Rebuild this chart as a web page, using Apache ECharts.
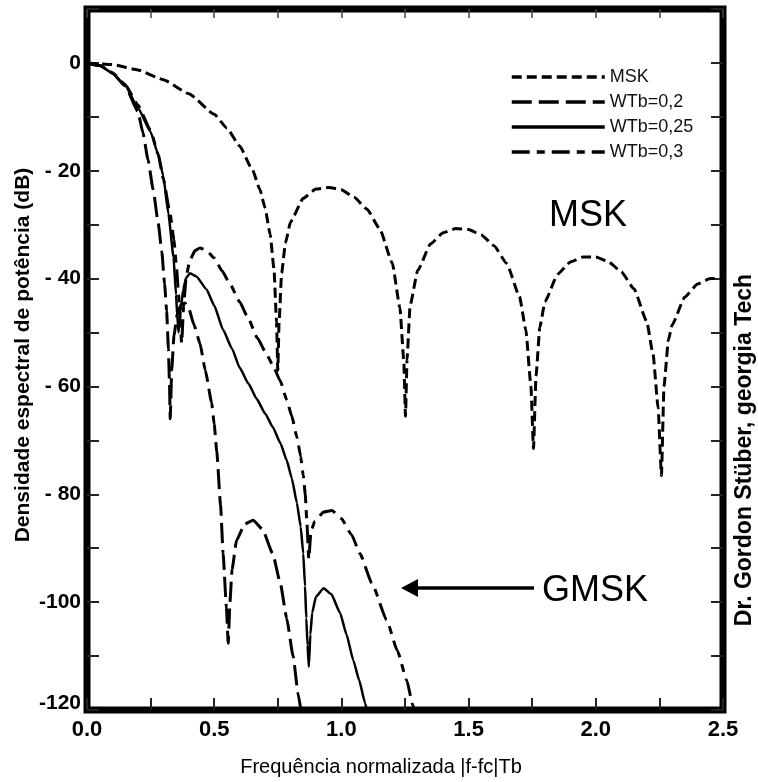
<!DOCTYPE html>
<html>
<head>
<meta charset="utf-8">
<script src="https://cdn.jsdelivr.net/npm/echarts@6/dist/echarts.min.js"></script>
<style>
  html, body { margin: 0; padding: 0; background: #fff; }
  #chart { width: 758px; height: 782px; }
</style>
</head>
<body>
<div id="chart"></div>
<script>
// ---- data ----
const seriesNames = ['MSK', 'WTb=0,2', 'WTb=0,25', 'WTb=0,3'];

const mskF = [0, 0.1, 0.2, 0.3, 0.4, 0.5, 0.55, 0.6, 0.65, 0.68, 0.7, 0.72, 0.735, 0.745, 0.75, 0.755, 0.765, 0.78, 0.8, 0.85,
  0.9, 0.95, 1.0, 1.05, 1.1, 1.15, 1.2, 1.23, 1.245, 1.252, 1.258, 1.27, 1.3, 1.35, 1.4, 1.45, 1.5, 1.55, 1.6, 1.65,
  1.7, 1.725, 1.745, 1.755, 1.765, 1.78, 1.8, 1.85, 1.9, 1.95, 2.0, 2.05, 2.1, 2.15, 2.2, 2.225, 2.245, 2.258, 2.268, 2.285,
  2.3, 2.35, 2.4, 2.45, 2.5];
const mskDb = [0, -0.3, -1.3, -3.1, -5.7, -9.5, -12.1, -15.4, -19.8, -23.5, -26.9, -31.8, -38.2, -48, -57, -48.2, -39, -33.4, -29.5, -25.1,
  -23.4, -23.1, -23.5, -24.9, -27.1, -30.7, -37.1, -45.4, -55, -65.5, -55, -45, -38.5, -33.6, -31.5, -30.7, -30.9, -31.9, -33.9, -37.2,
  -43.3, -49.5, -60, -71.5, -58, -49, -44.3, -39.2, -36.9, -36, -36, -36.9, -38.7, -41.9, -47.9, -54, -64, -76.5, -60, -51.5,
  -48.6, -43.4, -41, -40, -39.9];

const g20F = [0, 0.05, 0.1, 0.15, 0.2, 0.22, 0.24, 0.26, 0.28, 0.294, 0.305, 0.313, 0.32, 0.324, 0.327, 0.333, 0.342, 0.355, 0.37, 0.385,
  0.40, 0.42, 0.444, 0.465, 0.49, 0.50, 0.51, 0.525, 0.535, 0.548, 0.555, 0.562, 0.57, 0.588, 0.62, 0.653, 0.69, 0.73, 0.76, 0.785,
  0.81, 0.83, 0.842];
const g20Db = [0, -0.5, -1.9, -4.3, -9, -13, -18, -23.5, -29.7, -35, -41, -46, -53, -59, -66, -57, -50.5, -46.5, -44.8, -44.5,
  -45.5, -48.5, -52, -57, -63, -67, -72, -82, -91, -101, -107.6, -100, -94, -88.5, -85.5, -84.8, -86.5, -91, -96.5, -103,
  -110, -117, -120.5];

const g25F = [0, 0.05, 0.1, 0.15, 0.2, 0.25, 0.28, 0.3, 0.32, 0.34, 0.35, 0.355, 0.36, 0.368, 0.378, 0.39, 0.405, 0.43, 0.47, 0.5,
  0.535, 0.57, 0.6, 0.635, 0.667, 0.7, 0.73, 0.76, 0.785, 0.805, 0.825, 0.84, 0.85, 0.857, 0.862, 0.867, 0.872, 0.878, 0.885, 0.9,
  0.93, 0.96, 0.995, 1.02, 1.047, 1.07, 1.093, 1.102];
const g25Db = [0, -0.5, -1.9, -4.2, -8.3, -12.8, -17, -21, -28, -36, -43, -47, -50, -46, -42, -39.8, -39, -39.6, -42, -45,
  -49.5, -53, -56.5, -59.5, -62.3, -65, -67.5, -70.5, -73.7, -77, -81.6, -86, -91, -97, -103, -108, -112, -106, -102, -99,
  -97.4, -98.5, -102, -106, -110.8, -114.5, -118.7, -120.5];

const g30F = [0, 0.05, 0.1, 0.15, 0.2, 0.25, 0.28, 0.3, 0.326, 0.342, 0.352, 0.36, 0.366, 0.372, 0.38, 0.39, 0.405, 0.425, 0.444, 0.47,
  0.5, 0.53, 0.56, 0.6, 0.63, 0.67, 0.7, 0.73, 0.76, 0.785, 0.805, 0.825, 0.84, 0.85, 0.858, 0.864, 0.872, 0.88, 0.895, 0.93,
  0.963, 1.0, 1.04, 1.073, 1.12, 1.178, 1.22, 1.257, 1.28, 1.29];
const g30Db = [0, -0.5, -1.8, -4, -7.8, -12.5, -17, -21.5, -27.8, -32.8, -38, -43, -47.5, -52, -45, -39.5, -36.5, -34.8, -34.3, -34.8,
  -36.2, -38.5, -40.8, -44.3, -47, -51, -53.5, -56, -59, -62.5, -65.5, -69.4, -73, -76.5, -80, -85, -92, -87, -85, -83.3,
  -83, -84.5, -87.5, -91, -96.5, -103.3, -109, -114.5, -119, -121];

const xTickValues = [0, 0.5, 1.0, 1.5, 2.0, 2.5];
const xTickLabels = ['0.0', '0.5', '1.0', '1.5', '2.0', '2.5'];
const yTickValues = [0, -20, -40, -60, -80, -100, -120];
const yTickLabels = ['0', '- 20', '- 40', '- 60', '- 80', '-100', '-120'];

const yTitle = 'Densidade espectral de potência (dB)';
const xTitle = 'Frequência normalizada |f-fc|Tb';
const credit = 'Dr. Gordon Stüber, georgia Tech';

// ---- build ----
function zip(xs, ys) { const n = Math.min(xs.length, ys.length); const out = []; for (let i = 0; i < n; i++) out.push([xs[i], ys[i]]); return out; }

const FONT = '"Liberation Sans", Arial, "DejaVu Sans", sans-serif';
const chart = echarts.init(document.getElementById('chart'), null, { renderer: 'canvas' });

function lineSeries(name, data, width, type) {
  return {
    name: name, type: 'line', data: data, symbol: 'none', showSymbol: false,
    smooth: 0.15, smoothMonotone: 'x', clip: true, animation: false,
    lineStyle: { color: '#000', width: width, type: type },
    itemStyle: { color: '#000' },
    emphasis: { disabled: true }
  };
}

const tickStyle = { show: true, inside: true, length: 12, lineStyle: { color: '#222', width: 2 } };

const option = {
  backgroundColor: '#fff',
  animation: false,
  grid: { left: 87, right: 35, top: 9, bottom: 72, show: true, borderColor: '#000', borderWidth: 7, backgroundColor: 'transparent' },
  legend: {
    orient: 'vertical', left: 505, top: 63, itemWidth: 93, itemHeight: 14, itemGap: 7,
    data: seriesNames, selectedMode: false,
    lineStyle: { width: 3.5 },
    itemStyle: { color: 'rgba(0,0,0,0)', borderWidth: 0, opacity: 0 },
    textStyle: { fontFamily: FONT, fontSize: 18, color: '#111' }
  },
  xAxis: [{
    type: 'value', min: 0, max: 2.5, interval: 0.25,
    axisLine: { show: false, onZero: false }, splitLine: { show: false },
    axisTick: tickStyle,
    axisLabel: {
      margin: 9, color: '#000', fontFamily: FONT, fontWeight: 'bold', fontSize: 22,
      formatter: function (v) { const i = xTickValues.findIndex(t => Math.abs(t - v) < 1e-6); return i >= 0 ? xTickLabels[i] : ''; }
    }
  }, {
    type: 'value', min: 0, max: 2.5, interval: 0.25, position: 'top',
    axisLine: { show: false, onZero: false }, splitLine: { show: false },
    axisTick: { show: true, inside: true, length: 9, lineStyle: { color: '#444', width: 1.5 } },
    axisLabel: { show: false }
  }],
  yAxis: [{
    type: 'value', min: -120, max: 10, interval: 10,
    axisLine: { show: false, onZero: false }, splitLine: { show: false },
    axisTick: tickStyle,
    axisLabel: {
      margin: 6, color: '#000', fontFamily: FONT, fontWeight: 'bold', fontSize: 21,
      formatter: function (v) {
        const i = yTickValues.findIndex(t => Math.abs(t - v) < 1e-6);
        if (i < 0) return '';
        if (v === -120) return '{lo|' + yTickLabels[i] + '}';
        return yTickLabels[i];
      },
      rich: { lo: { fontFamily: FONT, fontWeight: 'bold', fontSize: 21, color: '#000', padding: [0, 0, 14, 0] } }
    }
  }, {
    type: 'value', min: -120, max: 10, interval: 10, position: 'right',
    axisLine: { show: false, onZero: false }, splitLine: { show: false },
    axisTick: tickStyle,
    axisLabel: { show: false }
  }],
  series: [
    lineSeries(seriesNames[0], zip(mskF, mskDb), 3, [10, 5]),
    lineSeries(seriesNames[1], zip(g20F, g20Db), 3, [20, 7]),
    lineSeries(seriesNames[2], zip(g25F, g25Db), 2.5, 'solid'),
    lineSeries(seriesNames[3], zip(g30F, g30Db), 3, [18, 7, 8, 7])
  ],
  graphic: [
    { type: 'text', x: 23, y: 355, rotation: Math.PI / 2,
      style: { text: yTitle, fill: '#000', font: 'bold 21px ' + FONT, textAlign: 'center', textVerticalAlign: 'middle' } },
    { type: 'text', x: 745, y: 450, rotation: Math.PI / 2,
      style: { text: credit, fill: '#000', font: 'bold 23px ' + FONT, textAlign: 'center', textVerticalAlign: 'middle' } },
    { type: 'text', x: 381, y: 767,
      style: { text: xTitle, fill: '#000', font: '20px ' + FONT, textAlign: 'center', textVerticalAlign: 'middle' } },
    { type: 'text', x: 588, y: 216,
      style: { text: 'MSK', fill: '#000', font: '36px ' + FONT, textAlign: 'center', textVerticalAlign: 'middle' } },
    { type: 'text', x: 542, y: 591,
      style: { text: 'GMSK', fill: '#000', font: '36px ' + FONT, textAlign: 'left', textVerticalAlign: 'middle' } },
    { type: 'line', shape: { x1: 412, y1: 588, x2: 534, y2: 588 }, style: { stroke: '#000', lineWidth: 3.5 } },
    { type: 'polygon', shape: { points: [[401, 588], [418, 579], [418, 597]] }, style: { fill: '#000' } }
  ]
};
chart.setOption(option);
</script>
</body>
</html>
